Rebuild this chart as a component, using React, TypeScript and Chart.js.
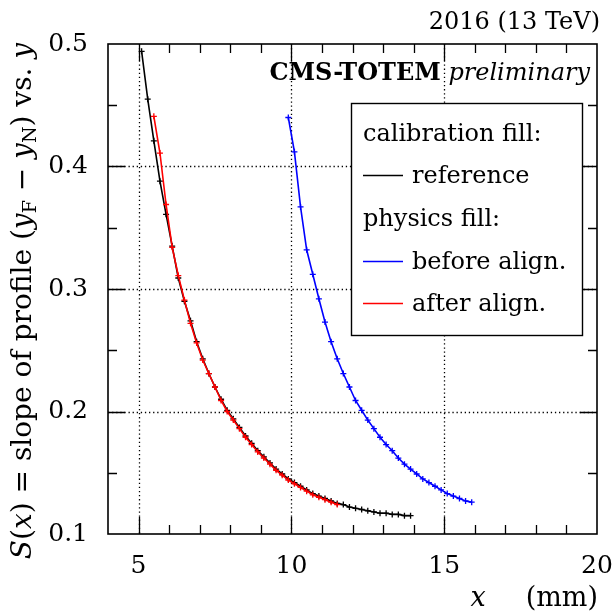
import React, { useEffect, useRef } from "react";
import { Chart, registerables } from "chart.js";

Chart.register(...registerables);

// ---------------- data ----------------
const REF_X = [5.1, 5.3, 5.5, 5.7, 5.9, 6.1, 6.3, 6.5, 6.7, 6.9, 7.1, 7.3, 7.5, 7.7, 7.9, 8.1, 8.3, 8.5, 8.7, 8.9, 9.1, 9.3, 9.5, 9.7, 9.9, 10.1, 10.3, 10.5, 10.7, 10.9, 11.1, 11.3, 11.5, 11.7, 11.9, 12.1, 12.3, 12.5, 12.7, 12.9, 13.1, 13.3, 13.5, 13.7, 13.9];
const REF_Y = [0.494, 0.455, 0.421, 0.388, 0.361, 0.335, 0.309, 0.290, 0.274, 0.257, 0.243, 0.231, 0.220, 0.210, 0.201, 0.194, 0.187, 0.180, 0.174, 0.168, 0.163, 0.158, 0.153, 0.149, 0.145, 0.142, 0.139, 0.136, 0.133, 0.131, 0.129, 0.127, 0.125, 0.124, 0.122, 0.121, 0.120, 0.119, 0.118, 0.117, 0.117, 0.116, 0.116, 0.115, 0.115];

const BEFORE_X = [9.9, 10.1, 10.3, 10.5, 10.7, 10.9, 11.1, 11.3, 11.5, 11.7, 11.9, 12.1, 12.3, 12.5, 12.7, 12.9, 13.1, 13.3, 13.5, 13.7, 13.9, 14.1, 14.3, 14.5, 14.7, 14.9, 15.1, 15.3, 15.5, 15.7, 15.9];
const BEFORE_Y = [0.440, 0.412, 0.367, 0.332, 0.312, 0.292, 0.273, 0.257, 0.243, 0.231, 0.220, 0.209, 0.201, 0.193, 0.186, 0.179, 0.173, 0.168, 0.162, 0.157, 0.153, 0.149, 0.145, 0.142, 0.139, 0.136, 0.133, 0.131, 0.129, 0.127, 0.126];

const AFTER_X = [5.5, 5.7, 5.9, 6.1, 6.3, 6.5, 6.7, 6.9, 7.1, 7.3, 7.5, 7.7, 7.9, 8.1, 8.3, 8.5, 8.7, 8.9, 9.1, 9.3, 9.5, 9.7, 9.9, 10.1, 10.3, 10.5, 10.7, 10.9, 11.1, 11.3, 11.5];
const AFTER_Y = [0.441, 0.411, 0.369, 0.334, 0.311, 0.291, 0.272, 0.256, 0.242, 0.231, 0.220, 0.209, 0.200, 0.193, 0.186, 0.179, 0.173, 0.167, 0.162, 0.157, 0.152, 0.148, 0.144, 0.141, 0.138, 0.135, 0.132, 0.130, 0.128, 0.126, 0.124];

const X_MIN = 4;
const X_MAX = 20;
const Y_MIN = 0.1;
const Y_MAX = 0.5;
const X_TICKS = [5, 10, 15, 20];
const Y_TICKS = [0.1, 0.2, 0.3, 0.4, 0.5];
const X_MINOR = [5, 6, 7, 8, 9, 10, 11, 12, 13, 14, 15, 16, 17, 18, 19];
const Y_MINOR = [0.15, 0.2, 0.25, 0.3, 0.35, 0.4, 0.45];
const X_GRID = [5, 10, 15];
const Y_GRID = [0.2, 0.3, 0.4];

const LEGEND_HEAD_1 = "calibration fill:";
const LEGEND_HEAD_2 = "physics fill:";
const SERIES_LABELS = ["reference", "before align.", "after align."];
const SERIES_COLORS = ["#000000", "#0000ff", "#ff0000"];

// ---------------- styling ----------------
const FONT = '"DejaVu Serif", "Liberation Serif", serif';
const W = 613;
const H = 614;

type Seg = { t: string; font: string; dy?: number };

function drawSegs(ctx: CanvasRenderingContext2D, segs: Seg[], x: number, y: number, align: "left" | "right" | "center") {
  let total = 0;
  for (const s of segs) {
    ctx.font = s.font;
    total += ctx.measureText(s.t).width;
  }
  let cx = align === "left" ? x : align === "right" ? x - total : x - total / 2;
  ctx.textAlign = "left";
  ctx.textBaseline = "alphabetic";
  for (const s of segs) {
    ctx.font = s.font;
    ctx.fillText(s.t, cx, y + (s.dy || 0));
    cx += ctx.measureText(s.t).width;
  }
}

const decorPlugin = {
  id: "decor",
  beforeDatasetsDraw(chart: any) {
    const { ctx, chartArea: a, scales } = chart;
    const xs = scales.x;
    const ys = scales.y;
    ctx.save();
    ctx.strokeStyle = "#000";
    ctx.lineWidth = 1.3;
    ctx.setLineDash([1.3, 2.8]);
    for (const v of X_GRID) {
      const px = Math.round(xs.getPixelForValue(v)) + 0.5;
      ctx.beginPath();
      ctx.moveTo(px, a.top);
      ctx.lineTo(px, a.bottom);
      ctx.stroke();
    }
    for (const v of Y_GRID) {
      const py = Math.round(ys.getPixelForValue(v)) + 0.5;
      ctx.beginPath();
      ctx.moveTo(a.left, py);
      ctx.lineTo(a.right, py);
      ctx.stroke();
    }
    ctx.restore();
  },
  afterDatasetsDraw(chart: any) {
    const { ctx, chartArea: a, scales } = chart;
    const xs = scales.x;
    const ys = scales.y;
    ctx.save();
    ctx.strokeStyle = "#000";
    ctx.setLineDash([]);
    // ticks
    ctx.lineWidth = 1.3;
    const majX = new Set(X_TICKS);
    for (const v of X_MINOR) {
      const px = Math.round(xs.getPixelForValue(v)) + 0.5;
      const len = majX.has(v) ? 17 : 9;
      ctx.beginPath();
      ctx.moveTo(px, a.bottom);
      ctx.lineTo(px, a.bottom - len);
      ctx.moveTo(px, a.top);
      ctx.lineTo(px, a.top + len);
      ctx.stroke();
    }
    for (const v of Y_MINOR) {
      const py = Math.round(ys.getPixelForValue(v)) + 0.5;
      const maj = Y_TICKS.some((t) => Math.abs(t - v) < 1e-6);
      const len = maj ? 17 : 9;
      ctx.beginPath();
      ctx.moveTo(a.left, py);
      ctx.lineTo(a.left + len, py);
      ctx.moveTo(a.right, py);
      ctx.lineTo(a.right - len, py);
      ctx.stroke();
    }
    // frame
    ctx.lineWidth = 1.6;
    ctx.strokeRect(a.left, a.top, a.right - a.left, a.bottom - a.top);

    // legend box
    const lx = 351, ly = 103, lw = 231, lh = 232;
    ctx.fillStyle = "#fff";
    ctx.fillRect(lx, ly, lw, lh);
    ctx.lineWidth = 1.4;
    ctx.strokeRect(lx + 0.5, ly + 0.5, lw, lh);
    ctx.fillStyle = "#000";
    const lf = `24px ${FONT}`;
    const tx = 363;
    drawSegs(ctx, [{ t: LEGEND_HEAD_1, font: lf }], tx, 141, "left");
    drawSegs(ctx, [{ t: LEGEND_HEAD_2, font: lf }], tx, 226, "left");
    const rows = [183, 269, 311];
    rows.forEach((by, i) => {
      ctx.strokeStyle = SERIES_COLORS[i];
      ctx.lineWidth = 1.4;
      ctx.beginPath();
      ctx.moveTo(tx, by - 7.5);
      ctx.lineTo(tx + 40, by - 7.5);
      ctx.stroke();
      ctx.fillStyle = "#000";
      drawSegs(ctx, [{ t: SERIES_LABELS[i], font: lf }], 412, by, "left");
    });

    // header texts
    ctx.fillStyle = "#000";
    drawSegs(ctx, [{ t: "2016 (13 TeV)", font: `24px ${FONT}` }], 600, 29, "right");
    drawSegs(
      ctx,
      [
        { t: "CMS-TOTEM", font: `bold 24px ${FONT}` },
        { t: " preliminary", font: `italic 24px ${FONT}` },
      ],
      590,
      80,
      "right"
    );

    // x title
    drawSegs(ctx, [{ t: "x", font: `italic 27px ${FONT}` }], 478, 606, "center");
    drawSegs(ctx, [{ t: "(mm)", font: `27px ${FONT}` }], 598, 606, "right");

    // y title (rotated)
    ctx.save();
    ctx.translate(31, 301);
    ctx.rotate(-Math.PI / 2);
    const rf = `28px ${FONT}`;
    const itf = `italic 28px ${FONT}`;
    const sf = `19px ${FONT}`;
    drawSegs(
      ctx,
      [
        { t: "S", font: itf },
        { t: "(", font: rf },
        { t: "x", font: itf },
        { t: ") = slope of profile (", font: rf },
        { t: "y", font: itf },
        { t: "F", font: sf, dy: 5 },
        { t: " \u2212 ", font: rf },
        { t: "y", font: itf },
        { t: "N", font: sf, dy: 5 },
        { t: ") vs. ", font: rf },
        { t: "y", font: itf },
      ],
      0,
      0,
      "center"
    );
    ctx.restore();
    ctx.restore();
  },
};

function toPts(xs: number[], ys: number[]) {
  return xs.map((x, i) => ({ x, y: ys[i] }));
}

export default function App() {
  const ref = useRef<HTMLCanvasElement | null>(null);
  useEffect(() => {
    document.body.style.margin = "0";
    document.body.style.overflow = "hidden";
    const canvas = ref.current!;
    const ds = (label: string, data: any[], color: string, order: number) => ({
      label,
      data,
      borderColor: color,
      backgroundColor: color,
      borderWidth: 1.6,
      pointStyle: "cross",
      pointRadius: 3,
      pointBorderWidth: 1.3,
      pointBorderColor: color,
      pointHoverRadius: 3,
      tension: 0,
      order,
    });
    const chart = new Chart(canvas, {
      type: "line",
      data: {
        datasets: [
          ds(SERIES_LABELS[0], toPts(REF_X, REF_Y), SERIES_COLORS[0], 3),
          ds(SERIES_LABELS[1], toPts(BEFORE_X, BEFORE_Y), SERIES_COLORS[1], 2),
          ds(SERIES_LABELS[2], toPts(AFTER_X, AFTER_Y), SERIES_COLORS[2], 1),
        ] as any,
      },
      options: {
        animation: false,
        responsive: false,
        devicePixelRatio: 1,
        events: [],
        layout: { padding: { left: 0, right: 16, top: 44, bottom: 0 } },
        plugins: { legend: { display: false }, tooltip: { enabled: false } },
        scales: {
          x: {
            type: "linear",
            min: X_MIN,
            max: X_MAX,
            grid: { display: false, drawTicks: false },
            border: { display: false },
            ticks: {
              color: "#000",
              font: { family: FONT, size: 25 },
              padding: 17,
              maxRotation: 0,
              callback: (v: any) => String(v),
            },
            afterBuildTicks: (axis: any) => {
              axis.ticks = X_TICKS.map((v) => ({ value: v }));
            },
            afterFit: (s: any) => {
              s.height = 80;
              s.paddingLeft = 0;
              s.paddingRight = 0;
            },
          },
          y: {
            type: "linear",
            min: Y_MIN,
            max: Y_MAX,
            grid: { display: false, drawTicks: false },
            border: { display: false },
            ticks: {
              color: "#000",
              font: { family: FONT, size: 25 },
              padding: 20,
              callback: (v: any) => Number(v).toFixed(1),
            },
            afterBuildTicks: (axis: any) => {
              axis.ticks = Y_TICKS.map((v) => ({ value: v }));
            },
            afterFit: (s: any) => {
              s.width = 108;
              s.paddingTop = 0;
              s.paddingBottom = 0;
            },
          },
        },
      } as any,
      plugins: [decorPlugin],
    });
    return () => chart.destroy();
  }, []);
  return (
    <div style={{ position: "absolute", left: 0, top: 0, width: W, height: H }}>
      <canvas ref={ref} width={W} height={H} style={{ width: W, height: H, display: "block" }} />
    </div>
  );
}
